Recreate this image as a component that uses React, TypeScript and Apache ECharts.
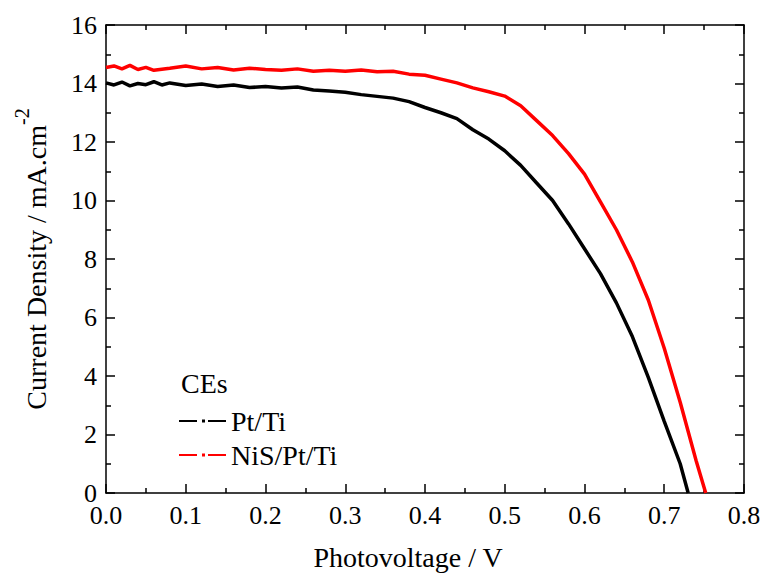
import React, { useEffect, useRef } from "react";
import * as echarts from "echarts";

const ptTiV = [0.0, 0.01, 0.02, 0.03, 0.04, 0.05, 0.06, 0.07, 0.08, 0.1, 0.12, 0.14, 0.16, 0.18, 0.2, 0.22, 0.24, 0.26, 0.28, 0.3, 0.32, 0.34, 0.36, 0.38, 0.4, 0.42, 0.44, 0.46, 0.48, 0.5, 0.52, 0.54, 0.56, 0.58, 0.6, 0.62, 0.64, 0.66, 0.68, 0.7, 0.72, 0.73];
const ptTiJ = [14.02, 13.95, 14.05, 13.92, 14.0, 13.96, 14.06, 13.95, 14.02, 13.93, 13.98, 13.9, 13.95, 13.86, 13.9, 13.85, 13.88, 13.78, 13.74, 13.7, 13.62, 13.56, 13.5, 13.38, 13.18, 13.0, 12.8, 12.42, 12.1, 11.7, 11.2, 10.6, 10.0, 9.2, 8.35, 7.5, 6.5, 5.35, 3.95, 2.45, 1.0, 0.0];

const nisV = [0.0, 0.01, 0.02, 0.03, 0.04, 0.05, 0.06, 0.08, 0.1, 0.12, 0.14, 0.16, 0.18, 0.2, 0.22, 0.24, 0.26, 0.28, 0.3, 0.32, 0.34, 0.36, 0.38, 0.4, 0.42, 0.44, 0.46, 0.48, 0.5, 0.52, 0.54, 0.56, 0.58, 0.6, 0.62, 0.64, 0.66, 0.68, 0.7, 0.72, 0.74, 0.752];
const nisJ = [14.55, 14.6, 14.5, 14.62, 14.48, 14.55, 14.45, 14.52, 14.6, 14.5, 14.55, 14.46, 14.52, 14.48, 14.45, 14.5, 14.42, 14.45, 14.42, 14.46, 14.4, 14.42, 14.32, 14.28, 14.15, 14.02, 13.85, 13.72, 13.57, 13.24, 12.73, 12.22, 11.6, 10.9, 9.95, 9.0, 7.9, 6.6, 4.95, 3.1, 1.1, 0.0];

const seriesNames = ["Pt/Ti", "NiS/Pt/Ti"];
const seriesColors = ["#000000", "#ff0000"];
const legendTitle = "CEs";
const xTitle = "Photovoltage / V";

const FONT = "Liberation Serif";

export default function App() {
  const ref = useRef<HTMLDivElement>(null);
  useEffect(() => {
    if (!ref.current) return;
    const chart = echarts.init(ref.current, null, { renderer: "svg" });
    const axisLine = { show: true, onZero: false, lineStyle: { color: "#000", width: 1.5 } };
    const tick = { show: true, inside: true, length: 9, lineStyle: { color: "#000", width: 1.5 } };
    const minor = { show: true, splitNumber: 2, length: 5, lineStyle: { color: "#000", width: 1.5 } };
    const legendIcon = "path://M0,0.6H18V2.4H0Z M23,0H26V3H23Z M29,0.6H47V2.4H29Z";
    chart.setOption({
      animation: false,
      textStyle: { fontFamily: FONT },
      grid: { left: 106, right: 20, top: 25, bottom: 76, containLabel: false },
      graphic: [
        {
          type: "text",
          left: 181,
          top: 369,
          style: { text: legendTitle, fontSize: 28, fontFamily: FONT, fill: "#000" },
        },
      ],
      legend: {
        orient: "vertical",
        left: 179,
        top: 407,
        padding: 0,
        itemGap: 6,
        itemWidth: 47,
        itemHeight: 3,
        textStyle: { fontSize: 28, fontFamily: FONT, color: "#000" },
        data: seriesNames.map((n) => ({ name: n, icon: legendIcon })),
      },
      xAxis: [
        {
          type: "value",
          min: 0,
          max: 0.8,
          interval: 0.1,
          position: "bottom",
          name: xTitle,
          nameLocation: "middle",
          nameGap: 50,
          nameTextStyle: { fontSize: 28, fontFamily: FONT, color: "#000", padding: [0, 34, 0, 0] },
          axisLine,
          axisTick: tick,
          minorTick: minor,
          splitLine: { show: false },
          axisLabel: {
            fontSize: 26,
            fontFamily: FONT,
            color: "#000",
            margin: 9,
            formatter: (v: number) => v.toFixed(1),
          },
        },
        {
          type: "value",
          min: 0,
          max: 0.8,
          interval: 0.1,
          position: "top",
          axisLine,
          axisTick: tick,
          minorTick: minor,
          splitLine: { show: false },
          axisLabel: { show: false },
        },
      ],
      yAxis: [
        {
          type: "value",
          min: 0,
          max: 16,
          interval: 2,
          position: "left",
          name: "{m|Current Density / mA.cm}{s|-2}",
          nameLocation: "middle",
          nameGap: 56,
          nameTextStyle: {
            fontFamily: FONT,
            color: "#000",
            rich: {
              m: { fontSize: 28, fontFamily: FONT, color: "#000", verticalAlign: "bottom" },
              s: { fontSize: 20, fontFamily: FONT, color: "#000", verticalAlign: "top", padding: [0, 0, 18, 0] },
            },
          },
          axisLine,
          axisTick: tick,
          minorTick: minor,
          splitLine: { show: false },
          axisLabel: { fontSize: 26, fontFamily: FONT, color: "#000", margin: 9 },
        },
        {
          type: "value",
          min: 0,
          max: 16,
          interval: 2,
          position: "right",
          axisLine,
          axisTick: tick,
          minorTick: minor,
          splitLine: { show: false },
          axisLabel: { show: false },
        },
      ],
      series: [
        {
          name: seriesNames[0],
          type: "line",
          data: ptTiV.map((v, i) => [v, ptTiJ[i]]),
          showSymbol: false,
          symbol: "rect",
          color: seriesColors[0],
          lineStyle: { width: 3.5, color: seriesColors[0] },
          itemStyle: { color: seriesColors[0], borderWidth: 0 },
        },
        {
          name: seriesNames[1],
          type: "line",
          data: nisV.map((v, i) => [v, nisJ[i]]),
          showSymbol: false,
          symbol: "rect",
          color: seriesColors[1],
          lineStyle: { width: 3.5, color: seriesColors[1] },
          itemStyle: { color: seriesColors[1], borderWidth: 0 },
        },
      ],
    });
    return () => chart.dispose();
  }, []);
  return <div ref={ref} style={{ width: 764, height: 576, position: "absolute", left: 0, top: 0 }} />;
}
